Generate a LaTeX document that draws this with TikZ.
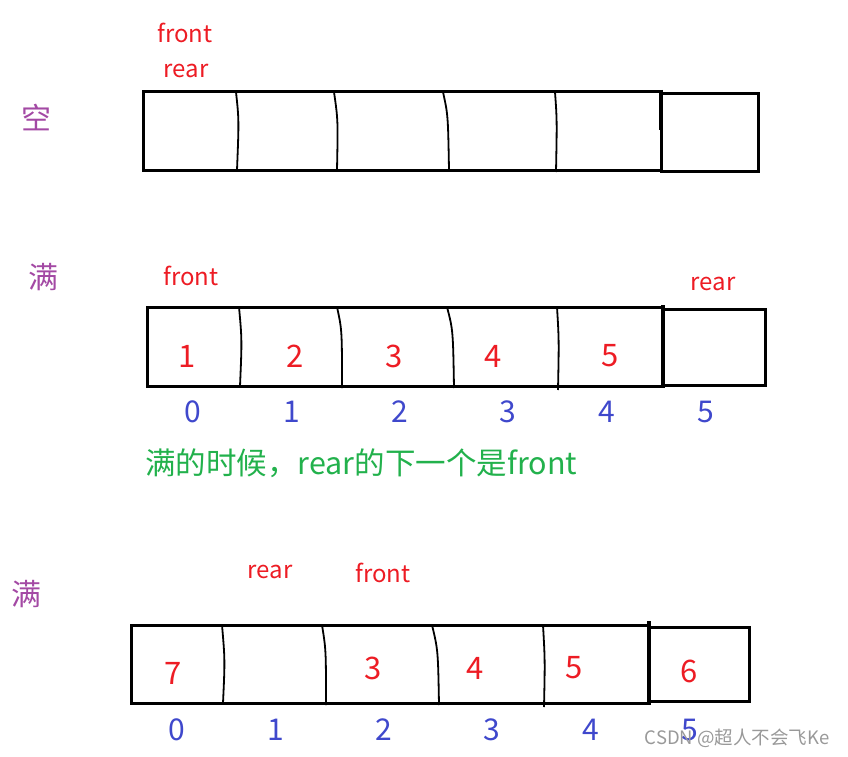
\documentclass[tikz,border=0pt]{standalone}
\usepackage{fontspec}
\setmainfont{Noto Sans CJK SC}
\definecolor{qred}{HTML}{ED1C24}
\definecolor{qblue}{HTML}{3F48CC}
\definecolor{qgreen}{HTML}{22B14C}
\definecolor{qpurple}{HTML}{A349A4}
\begin{document}
\begin{tikzpicture}[x=1pt, y=-1pt,
  ptr/.style={text=qred, font=\fontsize{24}{24}\selectfont},
  val/.style={text=qred, font=\fontsize{31}{31}\selectfont},
  idx/.style={text=qblue, font=\fontsize{30}{30}\selectfont},
  state/.style={text=qpurple, font=\fontsize{30}{30}\selectfont},
  cell/.style={line width=1.8pt},
  frame/.style={line width=3pt},
]
  \useasboundingbox (0,0) rectangle (848,757);

  % empty queue
  \node[state] (empty) at (36,118) {空};
  \node[ptr] (f1) at (185,33) {front};
  \node[ptr] (r1) at (186,71) {rear};
  \draw[frame] (143,92) rectangle (661,170);
  \draw[frame] (661,94) rectangle (758,171);
  \draw[cell] (236,92) .. controls (239,120) .. (237,170);
  \draw[cell] (334,92) .. controls (338,120) .. (337,170);
  \draw[cell] (443,92) .. controls (448,115) .. (449,170);
  \draw[cell] (555,92) .. controls (557,120) .. (556,172);
  \draw[line width=3.8pt] (661,90) -- (661,130);

  % full queue
  \node[state] (full1) at (43,277) {满};
  \node[ptr] (f2) at (191,276) {front};
  \node[ptr] (r2) at (713,284) {rear};
  \draw[frame] (147,307) rectangle (663,386);
  \draw[frame] (663,309) rectangle (765,385);
  \draw[cell] (239,307) .. controls (242,340) .. (240,386);
  \draw[cell] (337,307) .. controls (342,330) .. (342,388);
  \draw[cell] (447,307) .. controls (453,330) .. (454,388);
  \draw[cell] (557,307) .. controls (559,340) .. (558,390);
  \draw[line width=3.4pt] (663,305) -- (663,388);
  \foreach \x/\v in {187/1, 295/2, 394/3, 493/4, 610/5}
    \node[val] (v2-\v) at (\x,356) {\v};
  \foreach \x/\i in {193/0, 292/1, 400/2, 508/3, 607/4, 706/5}
    \node[idx] (i2-\i) at (\x,412) {\i};
  \node[text=qgreen, font=\fontsize{30.5}{30.5}\selectfont, anchor=west, inner sep=0pt] (note) at (145,463) {满的时候，rear的下一个是front};

  % full queue, wrapped
  \node[state] (full2) at (27,594) {满};
  \node[ptr] (r3) at (270,572) {rear};
  \node[ptr] (f3) at (383,573) {front};
  \draw[frame] (131,625) rectangle (649,703);
  \draw[frame] (649,627) rectangle (749,701);
  \draw[cell] (222,625) .. controls (225,660) .. (223,703);
  \draw[cell] (322,625) .. controls (326,650) .. (326,705);
  \draw[cell] (432,625) .. controls (438,650) .. (439,705);
  \draw[cell] (543,625) .. controls (545,660) .. (544,707);
  \draw[line width=3.4pt] (649,621) -- (649,705);
  \foreach \x/\v/\y in {173/7/673, 373/3/668, 475/4/668, 574/5/668, 689/6/671}
    \node[val] (v3-\v) at (\x,\y) {\v};
  \foreach \x/\i in {177/0, 276/1, 384/2, 492/3, 591/4, 690/5}
    \node[idx] (i3-\i) at (\x,730) {\i};
  \node[text=black!40, font=\fontsize{18.5}{18.5}\selectfont] (mark) at (737,738) {CSDN @超人不会飞Ke};
\end{tikzpicture}
\end{document}
